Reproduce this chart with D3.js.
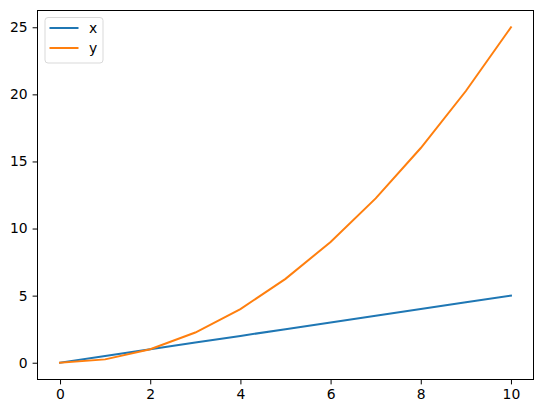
<!DOCTYPE html>
<html>
<head>
<meta charset="utf-8">
<script src="https://cdn.jsdelivr.net/npm/d3@7"></script>
<style>
  body { margin: 0; background: #fff; }
  text { font-family: "DejaVu Sans", sans-serif; }
</style>
</head>
<body>
<svg id="chart" width="543" height="413"></svg>
<script>
const xs = [0, 1, 2, 3, 4, 5, 6, 7, 8, 9, 10];
const xValues = [0, 0.5, 1, 1.5, 2, 2.5, 3, 3.5, 4, 4.5, 5];
const yValues = [0, 0.25, 1, 2.25, 4, 6.25, 9, 12.25, 16, 20.25, 25];
const seriesNames = ["x", "y"];
const seriesColors = ["#1f77b4", "#ff7f0e"];
const xTicks = [0, 2, 4, 6, 8, 10];
const yTicks = [0, 5, 10, 15, 20, 25];

const plotLeft = 37.5, plotTop = 10.5, plotRight = 533.5, plotBottom = 379.5;
const svg = d3.select("#chart");

const x = d3.scaleLinear().domain([-0.5, 10.5]).range([plotLeft, plotRight]);
const y = d3.scaleLinear().domain([-1.25, 26.25]).range([plotBottom, plotTop]);

const series = [xValues, yValues];
const line = d3.line().x((d, i) => x(xs[i])).y(d => y(d));

svg.append("g").selectAll("path")
  .data(series)
  .enter().append("path")
  .attr("d", d => line(d))
  .attr("fill", "none")
  .attr("stroke", (d, i) => seriesColors[i])
  .attr("stroke-width", 2)
  .attr("stroke-linecap", "square");

// frame
svg.append("rect")
  .attr("x", plotLeft).attr("y", plotTop)
  .attr("width", plotRight - plotLeft).attr("height", plotBottom - plotTop)
  .attr("fill", "none").attr("stroke", "#000").attr("stroke-width", 1);

const xAxis = svg.append("g")
  .attr("transform", `translate(0,${plotBottom})`)
  .call(d3.axisBottom(x).tickValues(xTicks).tickSize(4.9).tickPadding(4.9).tickFormat(d3.format("d")));
const yAxis = svg.append("g")
  .attr("transform", `translate(${plotLeft},0)`)
  .call(d3.axisLeft(y).tickValues(yTicks).tickSize(4.9).tickPadding(4.9).tickFormat(d3.format("d")));

[xAxis, yAxis].forEach(g => {
  g.select(".domain").remove();
  g.selectAll("text").attr("font-size", 13.9).attr("font-family", "DejaVu Sans").attr("fill", "#000");
  g.selectAll("line").attr("stroke", "#000");
});

// legend
const legend = svg.append("g");
legend.append("rect")
  .attr("x", 45).attr("y", 17.5).attr("width", 58).attr("height", 45.5)
  .attr("rx", 3).attr("fill", "#fff").attr("fill-opacity", 0.8)
  .attr("stroke", "#d9d9d9").attr("stroke-width", 1);

const items = legend.selectAll("g.item")
  .data(seriesNames)
  .enter().append("g")
  .attr("transform", (d, i) => `translate(0,${28 + i * 20})`);
items.append("line")
  .attr("x1", 49.5).attr("x2", 78.5).attr("y1", 0).attr("y2", 0)
  .attr("stroke", (d, i) => seriesColors[i]).attr("stroke-width", 2);
items.append("text")
  .attr("x", 89).attr("y", 5)
  .attr("font-size", 13.9)
  .text(d => d);
</script>
</body>
</html>
